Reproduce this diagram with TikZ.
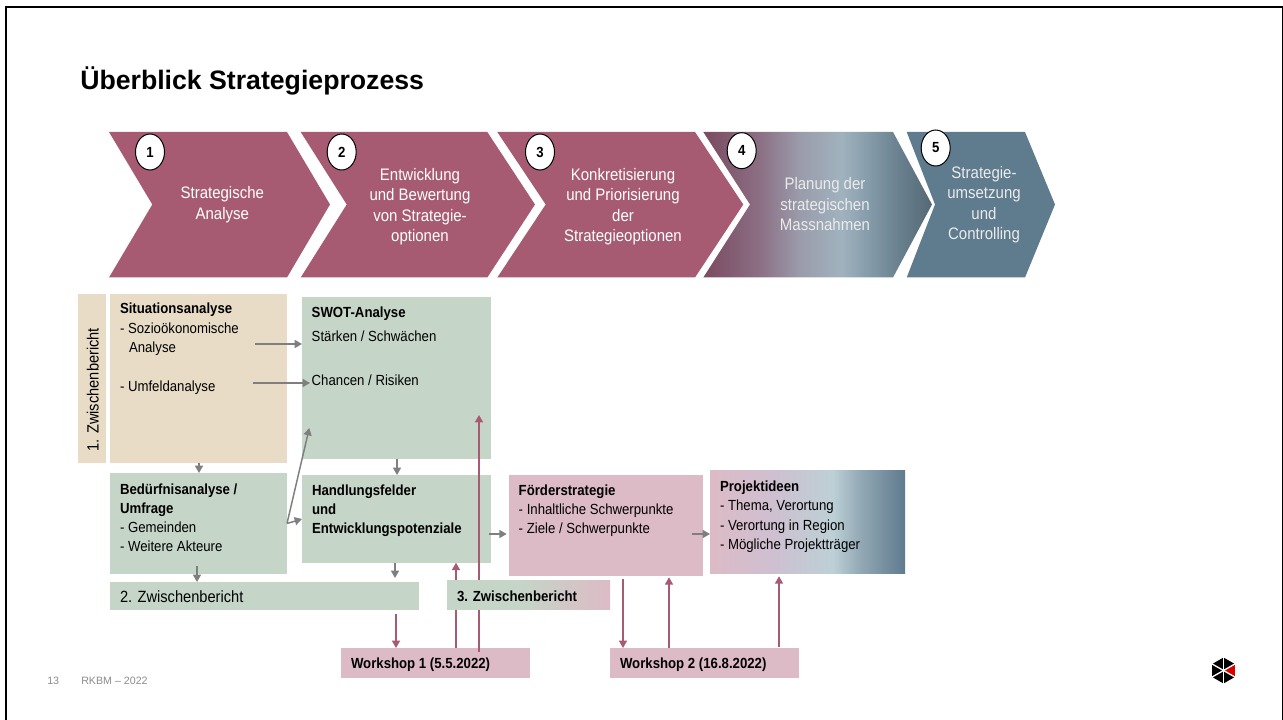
\documentclass[tikz,border=0pt]{standalone}
\usepackage{fontspec}
\setmainfont{Liberation Sans}
\newfontfamily\narrowsans[FakeStretch=0.9]{Liberation Sans}
\usetikzlibrary{arrows.meta,shapes.geometric}
\definecolor{maroon}{HTML}{A65B72}
\definecolor{slate}{HTML}{5F7B8E}
\definecolor{beige}{HTML}{E8DCC6}
\definecolor{sage}{HTML}{C5D5C7}
\definecolor{rosa}{HTML}{DDBBC6}
\definecolor{arrowgrey}{HTML}{7F7F7F}
\definecolor{footgrey}{HTML}{8C8C8C}
\definecolor{s1}{HTML}{7A4A60}\definecolor{s2}{HTML}{8C6F84}\definecolor{s3}{HTML}{9A9BAA}
\definecolor{s4}{HTML}{A0B2BE}\definecolor{s5}{HTML}{869CAB}\definecolor{s6}{HTML}{6A818F}\definecolor{s7}{HTML}{556874}
\definecolor{p2}{HTML}{CFBFD0}\definecolor{p3}{HTML}{BDD0D6}\definecolor{p4}{HTML}{93A9B5}
\pgfdeclarehorizontalshading{chevfour}{100bp}{color(0bp)=(s1); color(25bp)=(s1); color(37.3bp)=(s2); color(45.9bp)=(s3); color(55.2bp)=(s4); color(61bp)=(s5); color(67.5bp)=(s6); color(75bp)=(s7); color(100bp)=(s7)}
\pgfdeclarehorizontalshading{projshade}{100bp}{color(0bp)=(rosa); color(25bp)=(rosa); color(40.4bp)=(p2); color(56.5bp)=(p3); color(63.4bp)=(p4); color(75bp)=(slate); color(100bp)=(slate)}
\pgfdeclarehorizontalshading{zwshade}{100bp}{color(0bp)=(sage); color(25bp)=(sage); color(47.4bp)=(sage); color(75bp)=(rosa); color(100bp)=(rosa)}
\tikzset{
  chevtext/.style={text=white,align=center,font=\narrowsans\fontsize{12.5}{15.4}\selectfont,inner sep=0pt},
  numdot/.style={ellipse,draw=black,fill=white,line width=0.75pt,minimum width=21.75pt,minimum height=27pt,inner sep=0pt,font=\narrowsans\fontsize{11}{12}\bfseries\selectfont},
  boxnode/.style={inner sep=0pt,outer sep=0pt,draw=none},
  greyarrow/.style={draw=arrowgrey,line width=1.1pt,-{Triangle[width=6pt,length=5.5pt]}},
  rosearrow/.style={draw=maroon,line width=1.1pt,-{Triangle[width=6pt,length=5.5pt]}},
  foot/.style={text=footgrey,inner sep=0pt,font=\fontsize{8}{10}\selectfont}
}
% name, x1, y1, x2, y2, style, first baseline, left pad, content
\newcommand{\bxnode}[9]{%
  \pgfmathsetlengthmacro\bxw{(#4-#2)*0.75}%
  \pgfmathsetlengthmacro\bxh{(#5-#3)*0.75}%
  \pgfmathsetlengthmacro\bxb{(#7)*0.75}%
  \pgfmathsetlengthmacro\bxl{(#8)*0.75}%
  \node[boxnode,#6,anchor=north west,minimum width=\bxw,minimum height=\bxh] (#1) at (#2,#3)
    {\parbox[c][\bxh][t]{\bxw}{\narrowsans\fontsize{11}{14.5}\selectfont\raggedright\leftskip=\bxl\rule{0pt}{\bxb}#9\par}};%
}
\begin{document}
\begin{tikzpicture}[x=0.75pt,y=-0.75pt]
\useasboundingbox (0,0) rectangle (1283,720);
\fill[white] (0,0) rectangle (1283,720);
% frame
\fill[black] (4.7,6) rectangle (7.3,720);
\fill[black] (4.7,6) rectangle (1283,8.3);
\fill[black] (1281.7,6) rectangle (1282.7,720);
% title
\node[anchor=base west,inner sep=0pt,font=\fontsize{20}{24}\bfseries\selectfont] (title) at (80,90) {Überblick Strategieprozess};
% chevrons
\fill[maroon] (109,132) -- (287,132) -- (330,204.5) -- (287,277.5) -- (109,277.5) -- (152.3,204.5) -- cycle;
\fill[maroon] (300.7,132) -- (487.3,132) -- (535,204.5) -- (487.3,277.5) -- (300.7,277.5) -- (346.7,204.5) -- cycle;
\fill[maroon] (497.3,132) -- (695,132) -- (743.3,204.5) -- (695,277.5) -- (497.3,277.5) -- (545.7,204.5) -- cycle;
\shade[shading=chevfour] (703.3,132) -- (893,132) -- (932,204.5) -- (893,277.5) -- (703.3,277.5) -- (750,204.5) -- cycle;
\fill[slate] (906.7,132) -- (1025,132) -- (1055,204.5) -- (1025,277.5) -- (906.7,277.5) -- (935,204.5) -- cycle;
\node[chevtext] (c1) at (222.3,204.5) {Strategische\\Analyse};
\node[chevtext] (c2) at (420,206.5) {Entwicklung\\und Bewertung\\von Strategie-\\optionen};
\node[chevtext] (c3) at (623,206.5) {Konkretisierung\\und Priorisierung\\der\\Strategieoptionen};
\node[chevtext,text=white!92!black] (c4) at (825,204.5) {Planung der\\strategischen\\Massnahmen};
\node[chevtext,text=white!92!black] (c5) at (984,204.5) {Strategie-\\umsetzung\\und\\Controlling};
\node[numdot] (n1) at (150,152) {1};
\node[numdot] (n2) at (341.7,152) {2};
\node[numdot] (n3) at (540,152) {3};
\node[numdot] (n4) at (741.7,150.7) {4};
\node[numdot] (n5) at (935.7,148) {5};
% boxes
\node[boxnode,fill=beige,anchor=north west,minimum width=21pt,minimum height=126.5pt] (zw1) at (78,294) {};
\node[rotate=90,inner sep=0pt,font=\narrowsans\fontsize{12.2}{13}\selectfont] (zw1t) at (92.7,389.7) {1. Zwischenbericht};
\bxnode{sit}{110}{294}{287}{462.7}{fill=beige}{20}{10}{\textbf{Situationsanalyse}\\- Sozioökonomische\\\hspace*{6.75pt}Analyse\\[14.5pt]- Umfeldanalyse}
\bxnode{swot}{302}{297.3}{491}{458.7}{fill=sage}{20}{9.7}{\textbf{SWOT-Analyse}\\[3.7pt]Stärken / Schwächen\\[18.5pt]Chancen / Risiken}
\bxnode{bed}{110}{473}{287}{574}{fill=sage}{21}{10}{\textbf{Bedürfnisanalyse /}\\\textbf{Umfrage}\\- Gemeinden\\- Weitere Akteure}
\bxnode{hand}{302}{475}{491}{562.7}{fill=sage}{20}{10}{\textbf{Handlungsfelder}\\\textbf{und}\\\textbf{Entwicklungspotenziale}}
\bxnode{zw2}{110}{582}{419}{609.7}{fill=sage}{20}{10}{\fontsize{12.2}{13}\selectfont 2. Zwischenbericht}
\bxnode{foe}{509}{475}{703}{576}{fill=rosa}{20}{9.7}{\textbf{Förderstrategie}\\- Inhaltliche Schwerpunkte\\- Ziele / Schwerpunkte}
\bxnode{proj}{710}{471}{905}{573}{shade,shading=projshade}{20.5}{10}{\textbf{Projektideen}\\- Thema, Verortung\\- Verortung in Region\\- Mögliche Projektträger}
\bxnode{ws1}{341}{648}{530}{678}{fill=rosa}{20.5}{10}{\textbf{Workshop 1 (5.5.2022)}}
\bxnode{ws2}{610}{648}{799}{678}{fill=rosa}{20.5}{10}{\textbf{Workshop 2 (16.8.2022)}}
% free ends of connectors
\coordinate (a1s) at (255,344);
\coordinate (a2s) at (253,383);
\coordinate (a2e) at (310,383);
\coordinate (a3s) at (287,523.5);
\coordinate (a3e) at (309.3,428);
\coordinate (a4e) at (302,519);
\coordinate (m1s) at (396,614.3);
\coordinate (m3s) at (479,651.7);
\coordinate (m3e) at (479,415);
\coordinate (m4s) at (623,579.3);
\coordinate (m5e) at (669,577.3);
\coordinate (m6s) at (779,646.7);
\coordinate (m6e) at (779,576.3);
\coordinate (a7s) at (197,566);
\coordinate (a8e) at (395,578);
\coordinate (a9s) at (489.3,534);
\coordinate (a9e) at (506.7,534);
\coordinate (a10s) at (692.3,534);
\coordinate (m2x) at (456,648);
% grey connectors
\draw[greyarrow] (a1s) -- (swot.west |- a1s);
\draw[greyarrow] (a2s) -- (a2e);
\draw[greyarrow] (a3s) -- (a3e);
\draw[greyarrow] (a3s) -- (a4e);
\draw[greyarrow] (sit.south -| 199,0) -- (bed.north -| 199,0);
\draw[greyarrow] (swot.south -| 397,0) -- (hand.north -| 397,0);
\draw[greyarrow] (a7s) -- (zw2.north -| a7s);
\draw[greyarrow] (hand.south -| a8e) -- (a8e);
\draw[greyarrow] (a9s) -- (a9e);
\draw[greyarrow] (a10s) -- (proj.west |- a10s);
% rose connectors
\draw[rosearrow] (m1s) -- (ws1.north -| m1s);
\draw[rosearrow] (ws1.north -| m2x) -- (hand.south -| m2x);
\draw[rosearrow] (m3s) -- (m3e);
\draw[rosearrow] (m4s) -- (ws2.north -| m4s);
\draw[rosearrow] (ws2.north -| m5e) -- (m5e);
\draw[rosearrow] (m6s) -- (m6e);
% box drawn over the rose lines
\bxnode{zw3}{447}{580}{610}{609.7}{shade,shading=zwshade}{21}{10}{\textbf{3. Zwischenbericht}}
% footer
\node[foot,anchor=base west] (pg) at (47,684.5) {13};
\node[foot,anchor=base west] (rk) at (81,684.5) {RKBM – 2022};
% logo
\fill[black] (1223.5,657.5) -- (1234.8,664) -- (1234.8,677) -- (1223.5,683.5) -- (1212.2,677) -- (1212.2,664) -- cycle;
\fill[red!85!black] (1223.5,670.5) -- (1234.8,664) -- (1234.8,677) -- cycle;
\draw[white,line width=1pt] (1223.5,656) -- (1223.5,685);
\draw[white,line width=1pt] (1211,663.3) -- (1236,677.7);
\draw[white,line width=1pt] (1211,677.7) -- (1236,663.3);
\end{tikzpicture}
\end{document}
